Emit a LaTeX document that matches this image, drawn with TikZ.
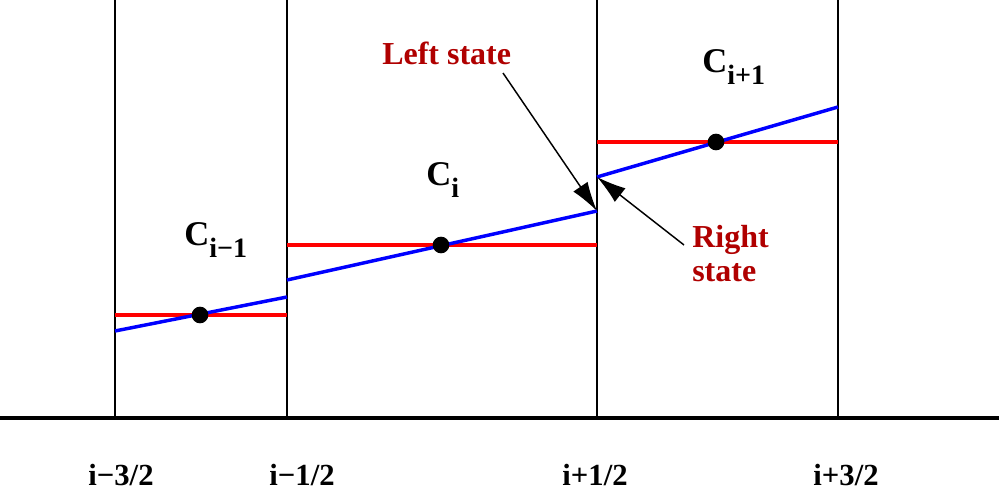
\documentclass[tikz,border=0pt]{standalone}
\usepackage{fontspec}
\setmainfont{Liberation Serif}
\usetikzlibrary{arrows.meta}
\definecolor{lblred}{RGB}{176,0,0}
\tikzset{
  cellwall/.style={line width=1.2pt,black},
  axisline/.style={line width=2.4pt,black},
  avgline/.style={line width=2.8pt,red},
  slopeline/.style={line width=2.6pt,blue},
  centerdot/.style={circle,fill=black,inner sep=0pt,minimum size=12.5pt},
  pointer/.style={line width=1.1pt,-{Latex[length=22pt,width=13pt]}},
  celllbl/.style={anchor=base west,inner sep=0pt,font=\bfseries\fontsize{26}{30}\selectfont},
  redlbl/.style={anchor=base west,inner sep=0pt,text=lblred,align=left,font=\bfseries\fontsize{24}{26}\selectfont},
  axislbl/.style={anchor=base,inner sep=0pt,font=\bfseries\fontsize{23}{26}\selectfont},
}
\newcommand{\subtxt}[1]{\raisebox{-0.33em}{\fontsize{21}{21}\selectfont #1}}
\begin{document}
\begin{tikzpicture}[x=0.75pt,y=-0.75pt]
\useasboundingbox (0,0) rectangle (999,491);
\fill[white] (0,0) rectangle (999,491);
% cell walls
\coordinate (w1t) at (115,0); \coordinate (w1b) at (115,418);
\coordinate (w2t) at (287,0); \coordinate (w2b) at (287,418);
\coordinate (w3t) at (597,0); \coordinate (w3b) at (597,418);
\coordinate (w4t) at (838,0); \coordinate (w4b) at (838,418);
\draw[cellwall] (w1t) -- (w1b);
\draw[cellwall] (w2t) -- (w2b);
\draw[cellwall] (w3t) -- (w3b);
\draw[cellwall] (w4t) -- (w4b);
% axis
\coordinate (ax0) at (0,418); \coordinate (ax1) at (999,418);
\draw[axisline] (ax0) -- (ax1);
% cell averages
\coordinate (a1l) at (115,315); \coordinate (a1r) at (287,315);
\coordinate (a2l) at (287,245); \coordinate (a2r) at (597,245);
\coordinate (a3l) at (597,142); \coordinate (a3r) at (838,142);
\draw[avgline] (a1l) -- (a1r);
\draw[avgline] (a2l) -- (a2r);
\draw[avgline] (a3l) -- (a3r);
% reconstructions
\coordinate (s1l) at (115,331); \coordinate (s1r) at (287,297);
\coordinate (s2l) at (287,280); \coordinate (s2r) at (597,211);
\coordinate (s3l) at (597,177); \coordinate (s3r) at (838,107);
\draw[slopeline] (s1l) -- (s1r);
\draw[slopeline] (s2l) -- (s2r);
\draw[slopeline] (s3l) -- (s3r);
% centres
\node[centerdot] (d1) at (200,315) {};
\node[centerdot] (d2) at (441,245) {};
\node[centerdot] (d3) at (716,142) {};
% cell labels
\node[celllbl] (c1) at (184,246) {C\subtxt{i−1}};
\node[celllbl] (c2) at (426,186) {C\subtxt{i}};
\node[celllbl] (c3) at (702,73) {C\subtxt{i+1}};
% state labels
\node[redlbl] (ls) at (382,65) {Left state};
\node[redlbl] (rs) at (692,282) {Right\\state};
\coordinate (lsa) at (503,73);
\coordinate (rsa) at (684,245);
\draw[pointer] (lsa) -- (s2r);
\draw[pointer] (rsa) -- (s3l);
% axis labels
\node[axislbl] (x1) at (121,485) {i−3/2};
\node[axislbl] (x2) at (302,485) {i−1/2};
\node[axislbl] (x3) at (595,485) {i+1/2};
\node[axislbl] (x4) at (846,485) {i+3/2};
\end{tikzpicture}
\end{document}
